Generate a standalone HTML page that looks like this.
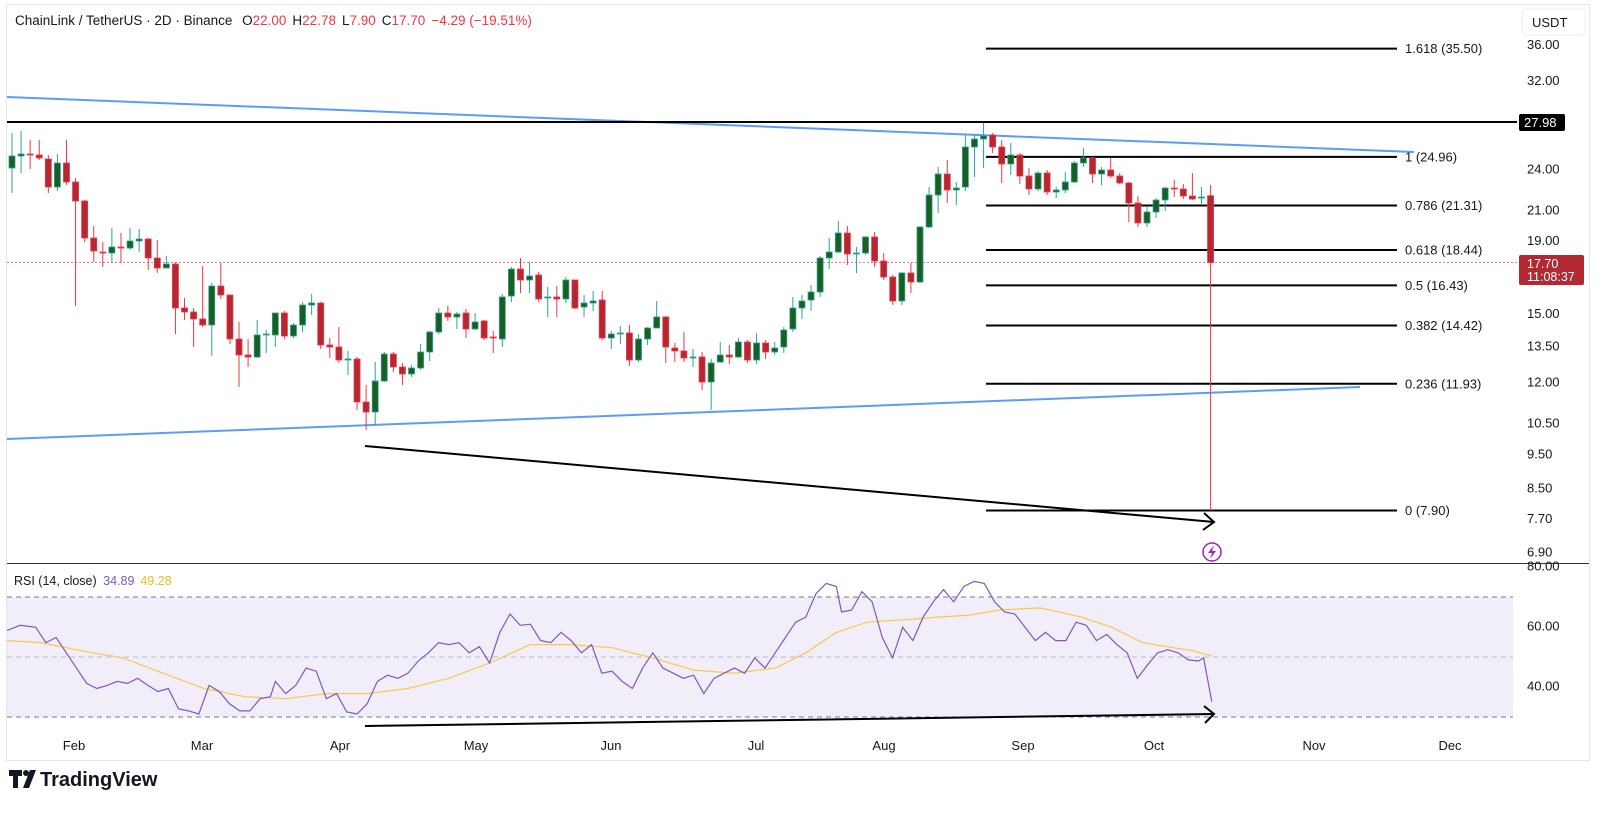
<!DOCTYPE html>
<html><head><meta charset="utf-8">
<style>
html,body{margin:0;padding:0;background:#fff;}
svg{display:block;font-family:"Liberation Sans",sans-serif;}
</style></head>
<body>
<svg id="s" width="1600" height="819" viewBox="0 0 1600 819" xmlns="http://www.w3.org/2000/svg">
<rect x="6.5" y="4.5" width="1583" height="756" fill="#fff" stroke="#e6e6e6"/>
<!-- RSI band -->
<rect x="7" y="597" width="1506" height="120" fill="#7e57c2" fill-opacity="0.1"/>
<line x1="7" y1="597" x2="1513" y2="597" stroke="#787b86" stroke-dasharray="5,4" stroke-width="1"/>
<line x1="7" y1="657" x2="1513" y2="657" stroke="#9598a1" stroke-dasharray="5,4" stroke-width="1" stroke-opacity="0.6"/>
<line x1="7" y1="717" x2="1513" y2="717" stroke="#787b86" stroke-dasharray="5,4" stroke-width="1"/>
<line x1="7" y1="563.5" x2="1589" y2="563.5" stroke="#333" stroke-width="1"/>
<g id="g"></g>
<!-- header -->
<text x="15" y="25" font-size="13.5" fill="#131722">ChainLink / TetherUS · 2D · Binance <tspan dx="6">O</tspan><tspan fill="#f23645">22.00</tspan><tspan dx="6">H</tspan><tspan fill="#f23645">22.78</tspan><tspan dx="6">L</tspan><tspan fill="#f23645">7.90</tspan><tspan dx="6">C</tspan><tspan fill="#f23645">17.70</tspan><tspan dx="6" fill="#f23645">−4.29 (−19.51%)</tspan></text>
<text x="14" y="585" font-size="12.5" fill="#131722">RSI (14, close) <tspan fill="#7e57c2" dx="3">34.89</tspan><tspan fill="#e8b923" dx="6">49.28</tspan></text>
<!-- USDT box -->
<rect x="1522" y="9" width="63" height="26" rx="4" fill="#fff" stroke="#eee"/>
<text x="1532" y="27" font-size="13" fill="#131722">USDT</text>
<!-- TradingView logo -->
<g transform="translate(9,770)">
<path d="M0 0h13v6h-4v12h-5v-12h-4z" fill="#131722"/>
<circle cx="17" cy="3" r="3" fill="#131722"/>
<path d="M21 0h6l-7 18h-6z" fill="#131722"/>
<text x="31" y="16" font-size="20" font-weight="bold" fill="#131722">TradingView</text>
</g>
</svg>
<script>
const NS="http://www.w3.org/2000/svg";
const g=document.getElementById('g');
function el(t,a,txt){const e=document.createElementNS(NS,t);for(const k in a)e.setAttribute(k,a[k]);if(txt!==undefined)e.textContent=txt;g.appendChild(e);return e;}
function Y(p){return 44.3+(3.5835-Math.log(p))*307.4;}
// price dotted line
el('line',{x1:7,y1:262.5,x2:1517,y2:262.5,stroke:'#f23645','stroke-dasharray':'2,2','stroke-width':1,'stroke-opacity':0.7});
// trendlines
el('line',{x1:7,y1:97,x2:1414,y2:152,stroke:'#5b9cf6','stroke-width':2});
el('line',{x1:7,y1:439,x2:1360,y2:387,stroke:'#5b9cf6','stroke-width':2});
// 27.98 line
el('line',{x1:7,y1:122,x2:1517,y2:122,stroke:'#000','stroke-width':2});
// fib
const fib=[["1.618 (35.50)",35.5],["1 (24.96)",24.96],["0.786 (21.31)",21.31],["0.618 (18.44)",18.44],["0.5 (16.43)",16.43],["0.382 (14.42)",14.42],["0.236 (11.93)",11.93],["0 (7.90)",7.9]];
fib.forEach(f=>{const y=Y(f[1]);el('line',{x1:986,y1:y,x2:1397,y2:y,stroke:'#000','stroke-width':2});el('text',{x:1405,y:y+4.5,'font-size':13,fill:'#131722'},f[0]);});
// candles
const C=`g 156 168 133 193;g 154 156 131 173;r 154 155 140 169;r 155 158 140 160;r 159 187 155 193;g 163 187 154 191;r 163 182 140 185;r 182 201 178 306;r 201 238 200 242;r 238 251 226 262;r 252 253 242 267;g 247 253 228 263;r 247 248 233 263;g 241 248 228 250;g 239 241 229 252;r 239 258 238 270;r 258 268 240 273;g 264 268 256 268;r 264 308 263 334;r 308 312 298 320;r 312 319 308 347;r 319 325 266 327;g 286 325 283 356;r 286 295 263 299;r 295 339 295 344;r 339 355 322 387;r 355 357 339 367;g 335 357 320 358;g 334 335 330 353;g 313 335 313 347;r 313 336 311 339;g 325 336 323 338;g 305 325 302 332;g 303 305 294 315;r 303 345 302 349;r 345 347 338 358;r 347 360 327 363;g 359 360 351 375;r 359 402 357 410;r 402 412 385 430;g 381 412 362 425;g 354 381 352 382;r 354 367 352 372;r 367 374 363 385;g 368 374 365 377;g 352 368 344 370;g 332 352 331 361;g 313 332 308 334;r 313 317 306 321;g 314 317 312 329;r 313 329 309 338;g 322 329 313 330;r 321 338 320 340;r 337 338 331 353;g 297 339 294 347;g 269 296 267 302;r 269 280 258 293;g 276 280 262 293;r 275 299 272 302;g 297 298 287 317;r 297 299 286 317;g 280 299 277 303;r 280 308 280 309;g 303 307 295 317;g 301 303 291 311;r 300 338 291 340;g 334 338 331 349;g 333 334 326 344;r 333 360 325 366;g 339 360 334 362;g 328 339 327 345;g 317 328 301 328;r 317 347 316 363;r 348 351 343 362;r 351 358 332 362;g 357 358 349 367;r 357 382 352 390;g 363 382 359 410;g 355 362 342 363;r 355 357 345 364;g 342 357 338 358;r 342 360 340 363;g 343 360 333 364;r 343 352 340 359;g 348 352 342 355;g 330 347 327 353;g 308 329 297 332;g 301 308 295 319;g 292 300 285 311;g 258 292 256 297;g 252 258 238 269;g 233 252 221 253;r 233 254 226 265;g 253 254 247 273;g 237 253 236 255;r 237 261 232 267;r 261 277 253 280;r 277 301 275 305;g 273 301 272 305;r 273 282 263 293;g 227 282 226 283;g 195 227 187 228;g 174 195 167 213;r 174 190 160 203;g 188 190 182 205;g 147 187 135 191;g 139 147 135 177;g 136 139 123 168;r 135 147 133 153;r 147 164 140 183;g 155 164 143 175;r 155 176 153 184;r 176 189 168 195;g 173 189 171 191;r 173 192 170 195;g 190 192 187 198;g 182 190 172 193;g 163 182 161 183;g 158 163 148 167;r 158 174 157 183;g 170 174 167 185;r 170 176 158 178;r 176 183 173 184;r 183 203 182 222;r 203 223 196 227;g 212 223 207 227;g 200 212 198 218;g 188 200 187 211;r 188 189 180 197;r 189 196 184 199;r 196 199 173 200;g 197 198 187 205;r 195.7 262.5 185 510.5`.split(';');
C.forEach((s,i)=>{const p=s.trim().split(' ');const t=p[0];const [bt,bb,wt,wb]=p.slice(1).map(Number);const x=12+i*9.08;
const wc=t=='g'?'#26a69a':'#f23645';const bc=t=='g'?'#1b5e20':'#b22833';
el('line',{x1:x,y1:wt,x2:x,y2:wb,stroke:wc,'stroke-width':1});
el('rect',{x:x-3,y:bt,width:6,height:Math.max(1,bb-bt),fill:bc,stroke:wc,'stroke-width':0.8});});
// diagonal arrow
el('line',{x1:365,y1:446,x2:1214,y2:522,stroke:'#000','stroke-width':2});
el('polyline',{points:'1204,513 1214,522 1203,530',fill:'none',stroke:'#000','stroke-width':2});
// lightning
el('circle',{cx:1212,cy:552,r:9,fill:'#fff',stroke:'#9c27b0','stroke-width':1.5});
el('path',{d:'M1214 545 L1208 553 L1212 553 L1210 559 L1216 551 L1212 551 Z',fill:'#9c27b0'});
// right axis labels
[["36.00",36],["32.00",32],["24.00",24],["21.00",21],["19.00",19],["15.00",15],["13.50",13.5],["12.00",12],["10.50",10.5],["9.50",9.5],["8.50",8.5],["7.70",7.7],["6.90",6.9]].forEach(a=>{el('text',{x:1527,y:Y(a[1])+4.5,'font-size':13,fill:'#131722'},a[0]);});
el('rect',{x:1519,y:114,width:46,height:17,rx:2,fill:'#000'});
el('text',{x:1524,y:127,'font-size':13,fill:'#fff'},'27.98');
el('rect',{x:1519,y:255,width:65,height:30,rx:2,fill:'#b22833'});
el('text',{x:1527,y:268,'font-size':12.5,fill:'#fff'},'17.70');
el('text',{x:1527,y:281,'font-size':12.5,fill:'#fff'},'11:08:37');
// RSI axis
[["80.00",566],["60.00",626],["40.00",686]].forEach(a=>el('text',{x:1527,y:a[1]+4.5,'font-size':13,fill:'#131722'},a[0]));
// time axis
[["Feb",74],["Mar",202],["Apr",340],["May",476],["Jun",611],["Jul",756],["Aug",884],["Sep",1023],["Oct",1154],["Nov",1314],["Dec",1450]].forEach(a=>el('text',{x:a[1],y:750,'font-size':13,fill:'#131722','text-anchor':'middle'},a[0]));
// RSI lines
const rsi=[[7,618],[20,613],[35,615],[45,630],[55,625],[65,640],[75,655],[85,670],[95,675],[105,672],[115,668],[125,670],[135,665],[145,672],[155,678],[165,675],[175,695],[185,697],[195,700],[205,672],[215,678],[225,690],[235,697],[245,697],[255,685],[265,683],[270,668],[280,680],[290,672],[300,655],[310,658],[320,685],[330,680],[340,698],[350,700],[360,690],[370,668],[380,662],[390,665],[400,660],[410,648],[420,640],[430,630],[440,632],[450,630],[460,640],[470,634],[480,650],[490,620],[500,602],[510,613],[520,612],[530,628],[540,630],[550,620],[560,628],[570,640],[580,632],[590,660],[600,658],[610,668],[620,675],[630,655],[640,640],[650,655],[660,660],[670,665],[680,662],[690,680],[700,665],[710,660],[720,655],[730,660],[740,645],[750,655],[760,640],[770,625],[780,610],[790,605],[800,582],[810,572],[820,575],[825,600],[835,598],[845,580],[855,590],[865,625],[875,645],[885,615],[895,628],[905,605],[915,590],[925,578],[935,590],[945,575],[955,570],[965,572],[975,590],[985,600],[995,602],[1005,615],[1015,628],[1025,620],[1035,628],[1045,628],[1055,610],[1065,613],[1075,628],[1085,622],[1095,632],[1105,640],[1115,665],[1125,652],[1135,640],[1145,637],[1155,640],[1165,647],[1175,648],[1180,645],[1188,688]];
const ma=[[7,628],[40,630],[80,638],[120,645],[160,660],[200,675],[240,683],[280,685],[320,680],[360,680],[400,675],[440,665],[480,650],[520,632],[560,632],[600,635],[640,645],[680,657],[720,660],[760,655],[790,640],[820,620],[850,610],[880,608],[920,605],[950,603],[980,598],[1020,596],[1060,605],[1090,615],[1120,630],[1150,635],[1170,638],[1188,643]];
const pts=a=>a.map(p=>(p[0]*1.02).toFixed(1)+','+(p[1]*1.02).toFixed(1)).join(' ');
el('polyline',{points:pts(ma),fill:'none',stroke:'#f7c948','stroke-width':1.2});
el('polyline',{points:pts(rsi),fill:'none',stroke:'#7e57c2','stroke-width':1.2});
el('line',{x1:365,y1:726,x2:1214,y2:714,stroke:'#000','stroke-width':2});
el('polyline',{points:'1204,706 1214,714 1205,723',fill:'none',stroke:'#000','stroke-width':2});
</script>
</body></html>
